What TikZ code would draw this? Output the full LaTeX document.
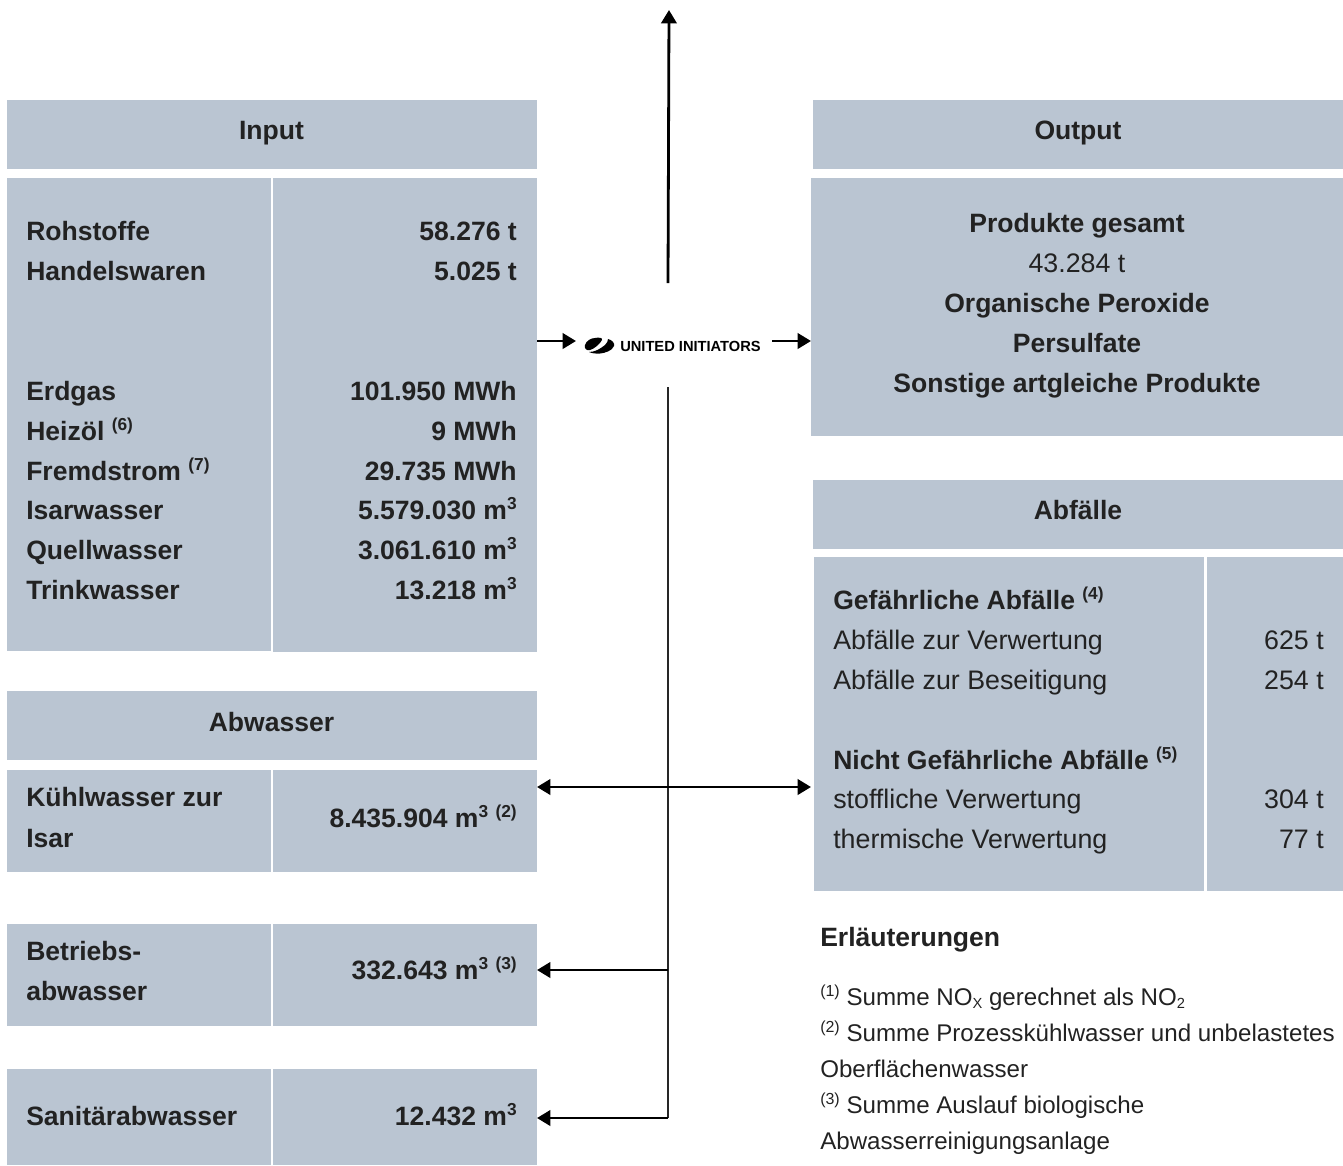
\documentclass[tikz,border=0pt]{standalone}
\usepackage{fontspec}
\setmainfont{Liberation Sans}
\usetikzlibrary{arrows.meta,fit}

\definecolor{panelblue}{HTML}{BAC5D2}
\definecolor{inkgrey}{HTML}{222222}

\newcommand{\sups}[1]{\raisebox{0.34em}{\fontsize{13}{13}\selectfont #1}}
\newcommand{\notesups}[1]{\raisebox{0.34em}{\fontsize{12}{12}\selectfont #1}}
\newcommand{\subs}[1]{\raisebox{-0.14em}{\fontsize{11}{11}\selectfont #1}}

\tikzset{
    panel/.style={fill=panelblue, inner sep=0pt, outer sep=0pt},
    boldtext/.style={inner sep=0pt, text=inkgrey, font=\fontsize{19.9}{24}\selectfont\bfseries},
    plaintext/.style={inner sep=0pt, text=inkgrey, font=\fontsize{20.1}{24}\selectfont},
    notetext/.style={inner sep=0pt, text=inkgrey, font=\fontsize{18.1}{24}\selectfont},
    flowarrow/.style={line width=2.1pt, -{Triangle[length=10pt,width=11.5pt]}},
    spine/.style={line width=1pt, draw=black!85},
}

\begin{document}
\begin{tikzpicture}[x=0.75pt, y=-0.75pt]
    \useasboundingbox (0,0) rectangle (1343,1165);

    \node[panel, fit={(7,100) (537,169)}] (inputhead) {};
    \node[panel, fit={(7,178) (271,651)}] (inputlabels) {};
    \node[panel, fit={(273,178) (537,652)}] (inputvalues) {};
    \node[panel, fit={(813,100) (1343,169)}] (outputhead) {};
    \node[panel, fit={(811,178) (1343,436)}] (outputbody) {};
    \node[panel, fit={(813,480) (1343,549)}] (wastehead) {};
    \node[panel, fit={(814,557) (1204,891)}] (wastelabels) {};
    \node[panel, fit={(1207,557) (1343,891)}] (wastevalues) {};
    \node[panel, fit={(7,691) (537,760)}] (waterhead) {};
    \node[panel, fit={(7,770) (271,872)}] (coolinglabel) {};
    \node[panel, fit={(273,770) (537,872)}] (coolingvalue) {};
    \node[panel, fit={(7,924) (271,1026)}] (processlabel) {};
    \node[panel, fit={(273,924) (537,1026)}] (processvalue) {};
    \node[panel, fit={(7,1069) (271,1165)}] (sanitarylabel) {};
    \node[panel, fit={(273,1069) (537,1165)}] (sanitaryvalue) {};

    \node[boldtext, anchor=base] (inputtitle) at (271.5,139) {Input};
    \node[boldtext, anchor=base] (outputtitle) at (1078,139) {Output};
    \node[boldtext, anchor=base] (wastetitle) at (1078,519) {Abfälle};
    \node[boldtext, anchor=base] (watertitle) at (271.5,731) {Abwasser};

    \foreach \i/\y/\lab/\val in {
        1/240/Rohstoffe/58.276 t,
        2/280/Handelswaren/5.025 t,
        3/400/Erdgas/101.950 MWh,
        4/440/Heizöl \sups{(6)}/9 MWh,
        5/480/Fremdstrom \sups{(7)}/29.735 MWh,
        6/519/Isarwasser/5.579.030 m\sups{3},
        7/559/Quellwasser/3.061.610 m\sups{3},
        8/599/Trinkwasser/13.218 m\sups{3}} {
        \node[boldtext, anchor=base west] (inlab\i) at (26,\y) {\lab};
        \node[boldtext, anchor=base east] (inval\i) at (517,\y) {\val};
    }

    \node[boldtext, anchor=base] (product1) at (1077,232) {Produkte gesamt};
    \node[plaintext, anchor=base] (product2) at (1077,272) {43.284 t};
    \node[boldtext, anchor=base] (product3) at (1077,312) {Organische Peroxide};
    \node[boldtext, anchor=base] (product4) at (1077,352) {Persulfate};
    \node[boldtext, anchor=base] (product5) at (1077,392) {Sonstige artgleiche Produkte};

    \node[boldtext, anchor=base west] (hazardous) at (833,609) {Gefährliche Abfälle \sups{(4)}};
    \node[boldtext, anchor=base west] (nonhazardous) at (833,769) {Nicht Gefährliche Abfälle \sups{(5)}};
    \foreach \i/\y/\lab/\val in {
        1/649/Abfälle zur Verwertung/625 t,
        2/689/Abfälle zur Beseitigung/254 t,
        3/808/stoffliche Verwertung/304 t,
        4/848/thermische Verwertung/77 t} {
        \node[plaintext, anchor=base west] (wastelab\i) at (833,\y) {\lab};
        \node[plaintext, anchor=base east] (wasteval\i) at (1324,\y) {\val};
    }

    \node[boldtext, anchor=base west] (cooling1) at (26,806) {Kühlwasser zur};
    \node[boldtext, anchor=base west] (cooling2) at (26,847) {Isar};
    \node[boldtext, anchor=base east] (coolingamount) at (517,827) {8.435.904 m\sups{3} \sups{(2)}};
    \node[boldtext, anchor=base west] (process1) at (26,960) {Betriebs-};
    \node[boldtext, anchor=base west] (process2) at (26,1000) {abwasser};
    \node[boldtext, anchor=base east] (processamount) at (517,979) {332.643 m\sups{3} \sups{(3)}};
    \node[boldtext, anchor=base west] (sanitary) at (26,1125) {Sanitärabwasser};
    \node[boldtext, anchor=base east] (sanitaryamount) at (517,1125) {12.432 m\sups{3}};

    \node[boldtext, anchor=base west] (notestitle) at (820,946) {Erläuterungen};
    \node[notetext, anchor=base west] (note1) at (820,1005) {\notesups{(1)} Summe NO\subs{X} gerechnet als NO\subs{2}};
    \node[notetext, anchor=base west] (note2) at (820,1041) {\notesups{(2)} Summe Prozesskühlwasser und unbelastetes};
    \node[notetext, anchor=base west] (note3) at (820,1077) {Oberflächenwasser};
    \node[notetext, anchor=base west] (note4) at (820,1113) {\notesups{(3)} Summe Auslauf biologische};
    \node[notetext, anchor=base west] (note5) at (820,1149) {Abwasserreinigungsanlage};

    % logo
    \fill (585,345) .. controls (586,341) and (591,338) .. (595,338)
        .. controls (599,337) and (603,338) .. (602,340)
        .. controls (600,344) and (594,349) .. (590,350)
        .. controls (587,351) and (584,349) .. cycle;
    \fill (608,339) .. controls (612,340) and (615,343) .. (614,346)
        .. controls (612,351) and (605,353) .. (600,353.5)
        .. controls (596,354) and (591,353) .. (589,352)
        .. controls (595,352) and (600,349) .. (605,345)
        .. controls (607,343) and (608,341) .. cycle;
    \node[inner sep=0pt, anchor=base west, font=\fontsize{11}{12}\selectfont\bfseries] (logo) at (620,351) {UNITED INITIATORS};

    \coordinate (logoin) at (576,341);
    \coordinate (logoout) at (772,341);
    \coordinate (stacktop) at (669,10);
    \coordinate (stackbase) at (668,283);
    \coordinate (spinetop) at (668,387);
    \coordinate (coolingjoint) at (811,787);
    \coordinate (processjoint) at (668,970);
    \coordinate (sanitaryjoint) at (668,1118);

    \draw[flowarrow] (inputvalues.east |- logoin) -- (logoin);
    \draw[flowarrow] (logoout) -- (outputbody.west |- logoout);
    \draw[flowarrow] (stackbase) -- (stacktop);
    \draw[spine] (spinetop) -- (sanitaryjoint);
    \draw[flowarrow, {Triangle[length=10pt,width=11.5pt]}-{Triangle[length=10pt,width=11.5pt]}] (coolingvalue.east |- coolingjoint) -- (coolingjoint);
    \draw[flowarrow] (processjoint) -- (processvalue.east |- processjoint);
    \draw[flowarrow] (sanitaryjoint) -- (sanitaryvalue.east |- sanitaryjoint);
\end{tikzpicture}
\end{document}
